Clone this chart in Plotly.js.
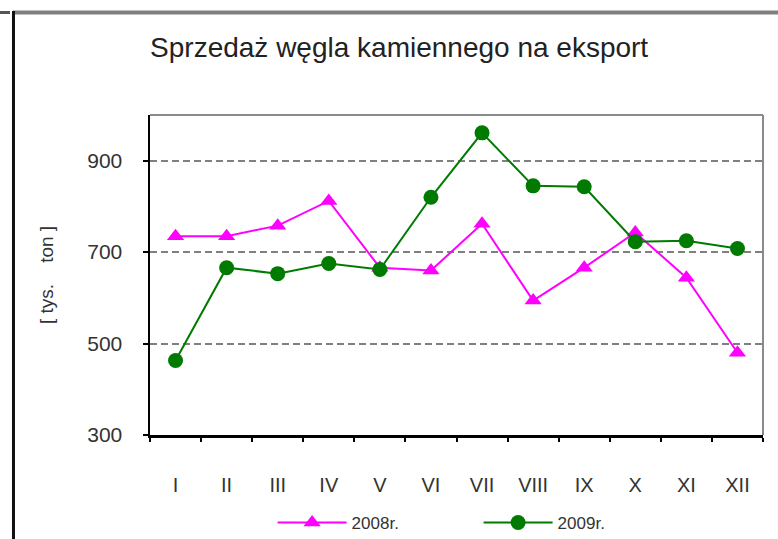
<!DOCTYPE html>
<html>
<head>
<meta charset="utf-8">
<script src="https://cdn.plot.ly/plotly-3.0.1.min.js"></script>
<style>
  html, body { margin: 0; padding: 0; background: #fff; }
  #chart { width: 778px; height: 539px; }
</style>
</head>
<body>
<div id="chart"></div>
<script>
const months = ["I", "II", "III", "IV", "V", "VI", "VII", "VIII", "IX", "X", "XI", "XII"];
const sales2008 = [735, 735, 758, 812, 666, 660, 762, 594, 666, 743, 644, 480];
const sales2009 = [463, 666, 653, 675, 662, 820, 961, 845, 843, 723, 725, 708];
const seriesNames = ["2008r.", "2009r."];
const yTicks = [300, 500, 700, 900];

const fontFamily = "'Liberation Sans', Arial, sans-serif";

const traces = [
  {
    x: months, y: sales2008, name: seriesNames[0], type: "scatter", mode: "lines+markers",
    line: { color: "#FF00FF", width: 2 },
    marker: { symbol: "triangle-up", size: 15, color: "#FF00FF" }
  },
  {
    x: months, y: sales2009, name: seriesNames[1], type: "scatter", mode: "lines+markers",
    line: { color: "#007A00", width: 2 },
    marker: { symbol: "circle", size: 15, color: "#007A00" }
  }
];

const layout = {
  width: 778, height: 539,
  margin: { l: 150, r: 15, t: 115, b: 104, autoexpand: false },
  paper_bgcolor: "#fff", plot_bgcolor: "#fff",
  font: { family: fontFamily, color: "#333" },
  title: {
    text: "Sprzedaż węgla kamiennego na eksport",
    font: { family: fontFamily, size: 28, color: "#222" },
    x: 0.513, xanchor: "center", xref: "container",
    y: 0.913, yanchor: "middle", yref: "container"
  },
  xaxis: {
    type: "category",
    range: [-0.5, 11.5],
    automargin: false,
    showline: true, linecolor: "#000", linewidth: 2.5,
    ticks: "outside", ticklen: 4, tickcolor: "#000", tickwidth: 2,
    tickson: "boundaries",
    ticklabelstandoff: 30,
    tickfont: { size: 20, color: "#333" },
    showgrid: false, zeroline: false, fixedrange: true
  },
  yaxis: {
    range: [300, 1000],
    automargin: false,
    tickvals: yTicks,
    ticktext: yTicks.map(String),
    showline: true, linecolor: "#000", linewidth: 2.5,
    ticks: "outside", ticklen: 5, tickcolor: "#000", tickwidth: 2,
    ticklabelstandoff: 16,
    tickfont: { size: 21, color: "#333" },
    showgrid: true, gridcolor: "#808080", gridwidth: 2, griddash: "7px,4px",
    zeroline: false, fixedrange: true,
    title: {
      text: "[ tys.\u00A0\u00A0\u00A0 ton ]",
      font: { size: 19, color: "#333" },
      standoff: 29
    }
  },
  showlegend: true,
  legend: {
    orientation: "h",
    x: 0.2, xanchor: "left",
    y: -0.275, yanchor: "middle",
    font: { size: 17, color: "#333" },
    itemwidth: 69,
    entrywidth: 122, entrywidthmode: "pixels",
    bgcolor: "rgba(0,0,0,0)"
  },
  shapes: [
    // plot area top and right borders (gray)
    { type: "line", xref: "paper", yref: "paper", x0: 0, x1: 1, y0: 1, y1: 1, line: { color: "#8a8a8a", width: 2 } },
    { type: "line", xref: "paper", yref: "paper", x0: 1, x1: 1, y0: 0, y1: 1, line: { color: "#8a8a8a", width: 2 } },
    // outer frame: top gray band
    { type: "line", xref: "paper", yref: "paper", x0: -0.2235, x1: 1.03, y0: 1.3203, y1: 1.3203, line: { color: "#808080", width: 4 } },
    // outer frame: small dark segment top-left
    { type: "line", xref: "paper", yref: "paper", x0: -0.26, x1: -0.2284, y0: 1.3203, y1: 1.3203, line: { color: "#555", width: 3 } },
    // outer frame: left black line
    { type: "line", xref: "paper", yref: "paper", x0: -0.2227, x1: -0.2227, y0: 1.325, y1: -0.4, line: { color: "#111", width: 3 } }
  ]
};

Plotly.newPlot("chart", traces, layout, { displayModeBar: false, staticPlot: true });
</script>
</body>
</html>
